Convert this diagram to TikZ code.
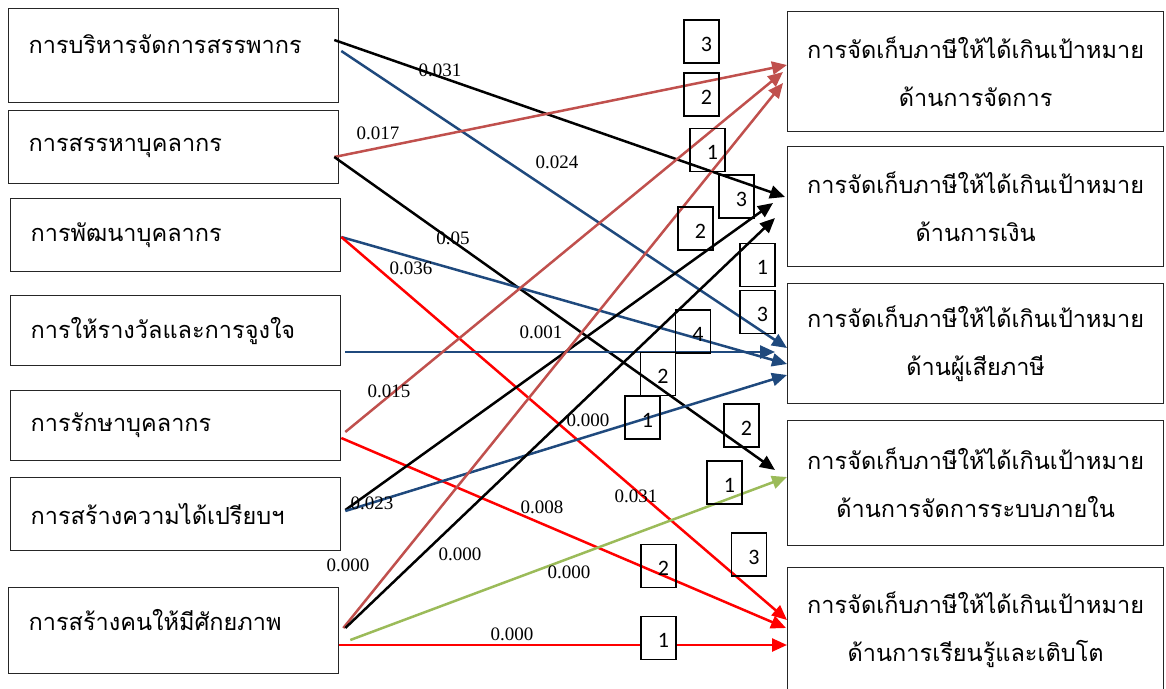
\documentclass[tikz,border=0pt]{standalone}
\usepackage{fontspec}
\setmainfont{Liberation Serif}
\newfontfamily\thaifont[Script=Thai]{Loma}
\newfontfamily\digitfont{Carlito}
\usetikzlibrary{arrows.meta}

\definecolor{navyline}{HTML}{1F497D}
\definecolor{brickline}{HTML}{C0504D}
\definecolor{oliveline}{HTML}{9BBB59}

\begin{document}
\begin{tikzpicture}[
    x=1pt, y=-1pt,
    >={Triangle[length=15pt,width=13pt]},
    factor/.style={draw=black!85, line width=1.3pt, anchor=north west, minimum width=330pt, text width=290pt, align=left, inner xsep=20pt, font=\thaifont\fontsize{23.5}{30}\selectfont},
    goal/.style={draw=black!85, line width=1.3pt, anchor=north west, minimum width=376pt, minimum height=120pt, align=center, font=\thaifont\fontsize{23.5}{48}\selectfont},
    rank/.style={draw, line width=1.2pt, minimum width=35pt, minimum height=43pt, text width=21pt, inner xsep=7pt, align=right, text height=19pt, text depth=0pt, font=\digitfont\fontsize{22}{22}\selectfont},
    weight/.style={font=\fontsize{19}{19}\selectfont, inner sep=0pt},
    link/.style={->, line width=2.5pt}
]
\useasboundingbox (0,0) rectangle (1166,688);

% factors on the left
\node[factor, minimum height=94pt, text depth=24pt] (bri) at (8,8) {การบริหารจัดการสรรพากร};
\node[factor, minimum height=73pt] (srh) at (8,110) {การสรรหาบุคลากร};
\node[factor, minimum height=73pt] (pat) at (10,198) {การพัฒนาบุคลากร};
\node[factor, minimum height=70pt] (rew) at (10,295) {การให้รางวัลและการจูงใจ};
\node[factor, minimum height=70pt] (rak) at (10,390) {การรักษาบุคลากร};
\node[factor, minimum height=73pt] (adv) at (10,477) {การสร้างความได้เปรียบฯ};
\node[factor, minimum height=86pt, text depth=21pt] (pot) at (8,587) {การสร้างคนให้มีศักยภาพ};

% targets on the right
\node[goal] (gman) at (787,11) {การจัดเก็บภาษีให้ได้เกินเป้าหมาย\\ด้านการจัดการ};
\node[goal] (gfin) at (787,146) {การจัดเก็บภาษีให้ได้เกินเป้าหมาย\\ด้านการเงิน};
\node[goal] (gpay) at (787,283) {การจัดเก็บภาษีให้ได้เกินเป้าหมาย\\ด้านผู้เสียภาษี};
\node[goal, minimum height=125pt] (gint) at (787,420) {การจัดเก็บภาษีให้ได้เกินเป้าหมาย\\ด้านการจัดการระบบภายใน};
\node[goal, minimum height=125pt] (glrn) at (787,567) {การจัดเก็บภาษีให้ได้เกินเป้าหมาย\\ด้านการเรียนรู้และเติบโต};

% paths
\draw[link, black] ([shift={(-5,32)}]bri.north east) -- ([shift={(-2,51)}]gfin.north west);
\draw[link, navyline] ([shift={(2,43)}]bri.north east) -- ([shift={(0,65)}]gpay.north west);
\draw[link, brickline] ([shift={(-5,47)}]srh.north east) -- ([shift={(0,54)}]gman.north west);
\draw[link, black] ([shift={(-5,47)}]srh.north east) -- ([shift={(-12,50)}]gint.north west);
\draw[link, navyline] ([shift={(0,39)}]pat.north east) -- ([shift={(0,81)}]gpay.north west);
\draw[link, red] ([shift={(0,39)}]pat.north east) -- ([shift={(0,53)}]glrn.north west);
\draw[link, navyline] ([shift={(4,57)}]rew.north east) -- ([shift={(-12,69)}]gpay.north west);
\draw[link, brickline] ([shift={(4,42)}]rak.north east) -- ([shift={(-4,61)}]gman.north west);
\draw[link, red] ([shift={(0,48)}]rak.north east) -- ([shift={(-1,61)}]glrn.north west);
\draw[link, black] ([shift={(4,33)}]adv.north east) -- ([shift={(-14,57)}]gfin.north west);
\draw[link, navyline] ([shift={(4,34)}]adv.north east) -- ([shift={(0,92)}]gpay.north west);
\draw[link, brickline] ([shift={(4,41)}]pot.north east) -- ([shift={(-4,72)}]gman.north west);
\draw[link, black] ([shift={(6,41)}]pot.north east) -- ([shift={(-12,72)}]gfin.north west);
\draw[link, oliveline] ([shift={(11,53)}]pot.north east) -- ([shift={(0,57)}]gint.north west);
\draw[link, red] ([shift={(0,58)}]pot.north east) -- ([shift={(0,78)}]glrn.north west);

% ranks beside each target
\node[rank] (r13) at (701.5,41.5) {3};
\node[rank] (r12) at (701.5,94.5) {2};
\node[rank] (r11) at (707.5,150) {1};
\node[rank] (r23) at (736.5,196.5) {3};
\node[rank] (r22) at (695.5,228.5) {2};
\node[rank] (r21) at (757.5,265) {1};
\node[rank] (r33) at (757.5,312) {3};
\node[rank] (r34) at (693,331.5) {4};
\node[rank] (r32) at (658,374) {2};
\node[rank] (r31) at (642.5,417.5) {1};
\node[rank] (r42) at (741.5,425.5) {2};
\node[rank] (r41) at (724.5,482.5) {1};
\node[rank] (r53) at (749,554.5) {3};
\node[rank] (r52) at (658.5,566) {2};
\node[rank, fill=white] (r51) at (658.5,638) {1};

% path coefficients
\node[weight] (w1) at (440,70) {0.031};
\node[weight] (w2) at (557,162) {0.024};
\node[weight] (w3) at (378,133) {0.017};
\node[weight] (w4) at (453,238) {0.05};
\node[weight] (w5) at (411,268) {0.036};
\node[weight] (w6) at (636,496) {0.031};
\node[weight] (w7) at (541,332) {0.001};
\node[weight] (w8) at (389,391) {0.015};
\node[weight] (w9) at (542,507) {0.008};
\node[weight] (w10) at (588,420) {0.000};
\node[weight] (w11) at (372,503) {0.023};
\node[weight] (w12) at (348,565) {0.000};
\node[weight] (w13) at (460,554) {0.000};
\node[weight] (w14) at (569,572) {0.000};
\node[weight] (w15) at (512,634) {0.000};
\end{tikzpicture}
\end{document}
